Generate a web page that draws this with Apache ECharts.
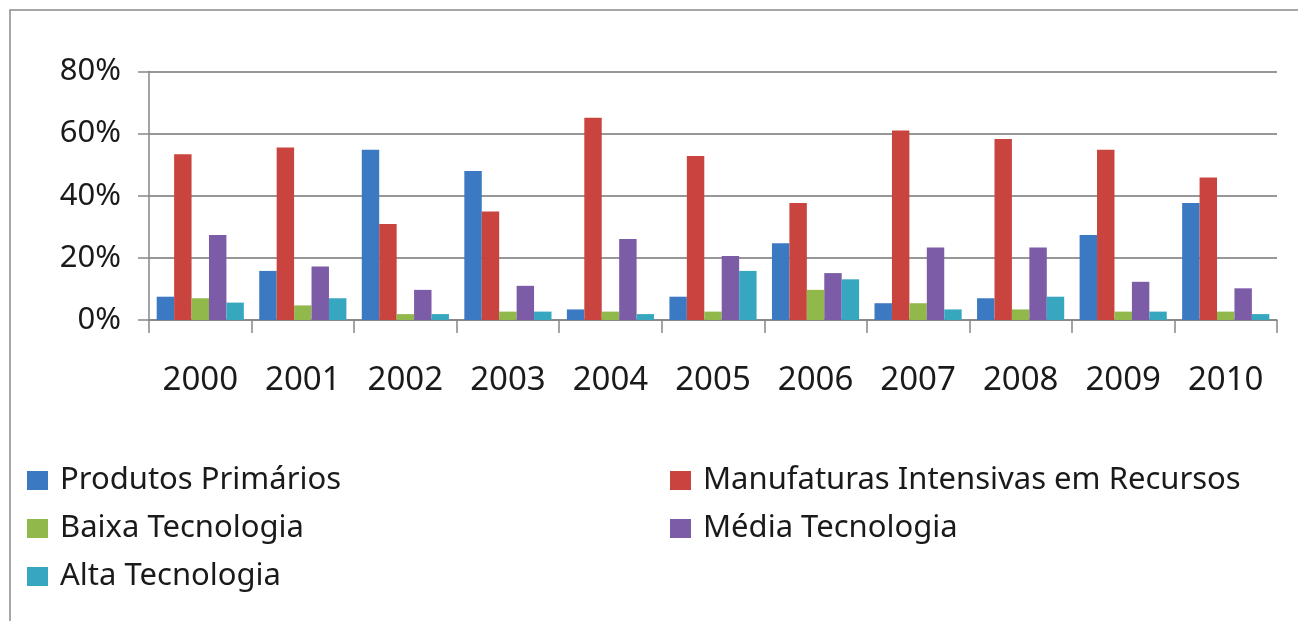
<!DOCTYPE html>
<html>
<head>
<meta charset="utf-8">
<script src="https://cdn.jsdelivr.net/npm/echarts@6/dist/echarts.min.js"></script>
<style>
  html, body { margin: 0; padding: 0; background: #fff; }
  #chart { width: 1298px; height: 621px; }
</style>
</head>
<body>
<div id="chart"></div>
<script>
// Export shares by technology intensity, 2000–2010 (%)
const years = ['2000', '2001', '2002', '2003', '2004', '2005', '2006', '2007', '2008', '2009', '2010'];
const yTicks = [0, 20, 40, 60, 80];

const produtosPrimarios = [7.5, 15.8, 54.8, 48.0, 3.4, 7.5, 24.7, 5.4, 7.0, 27.4, 37.7];
const manufaturasRecursos = [53.4, 55.5, 30.9, 34.9, 65.1, 52.8, 37.7, 61.0, 58.3, 54.8, 45.9];
const baixaTecnologia = [7.0, 4.7, 1.9, 2.7, 2.7, 2.7, 9.7, 5.4, 3.4, 2.7, 2.7];
const mediaTecnologia = [27.4, 17.2, 9.7, 11.0, 26.1, 20.6, 15.1, 23.3, 23.3, 12.3, 10.2];
const altaTecnologia = [5.6, 7.0, 1.9, 2.7, 1.9, 15.8, 13.1, 3.4, 7.5, 2.7, 1.9];

const seriesDefs = [
  { name: 'Produtos Primários', data: produtosPrimarios, color: '#3b79c3' },
  { name: 'Manufaturas Intensivas em Recursos', data: manufaturasRecursos, color: '#c9443f' },
  { name: 'Baixa Tecnologia', data: baixaTecnologia, color: '#90b84a' },
  { name: 'Média Tecnologia', data: mediaTecnologia, color: '#7d5ca7' },
  { name: 'Alta Tecnologia', data: altaTecnologia, color: '#37a7c0' }
];

const FONT = '"Noto Sans", "Open Sans", sans-serif';
const chart = echarts.init(document.getElementById('chart'), null, { renderer: 'canvas' });

const legendText = {
  fontFamily: FONT,
  fontSize: 31,
  color: '#1a1a1a',
  lineHeight: 30,
  padding: [0, 0, 0, 7]
};

chart.setOption({
  animation: false,
  backgroundColor: '#ffffff',
  color: seriesDefs.map(s => s.color),
  graphic: [{
    type: 'rect',
    shape: { x: 10, y: 10, width: 1300, height: 630 },
    style: { fill: 'none', stroke: '#8a8a8a', lineWidth: 1.5 },
    silent: true,
    z: -1
  }],
  grid: { left: 149, right: 21, top: 71.5, bottom: 301, containLabel: false },
  legend: [
    {
      orient: 'vertical',
      left: 22, top: 460,
      itemWidth: 21, itemHeight: 19, itemGap: 17,
      icon: 'rect',
      data: [seriesDefs[0].name, seriesDefs[2].name, seriesDefs[4].name],
      textStyle: legendText
    },
    {
      orient: 'vertical',
      left: 665, top: 460,
      itemWidth: 21, itemHeight: 19, itemGap: 17,
      icon: 'rect',
      data: [seriesDefs[1].name, seriesDefs[3].name],
      textStyle: legendText
    }
  ],
  xAxis: {
    type: 'category',
    data: years,
    axisLine: { show: true, lineStyle: { color: '#868686', width: 1.5 } },
    axisTick: { show: true, length: 13, alignWithLabel: false, lineStyle: { color: '#868686', width: 1.5 } },
    axisLabel: { margin: 44, fontFamily: FONT, fontSize: 33, color: '#1a1a1a' },
    splitLine: { show: false }
  },
  yAxis: {
    type: 'value',
    min: yTicks[0],
    max: yTicks[yTicks.length - 1],
    interval: 20,
    axisLine: { show: true, lineStyle: { color: '#868686', width: 1.5 } },
    axisTick: { show: true, length: 11, lineStyle: { color: '#868686', width: 1.5 } },
    axisLabel: {
      margin: 28,
      fontFamily: FONT,
      fontSize: 31,
      color: '#1a1a1a',
      formatter: '{value}%'
    },
    splitLine: { show: true, lineStyle: { color: '#757575', width: 1.5 } }
  },
  series: seriesDefs.map(s => ({
    name: s.name,
    type: 'bar',
    data: s.data,
    barGap: '0%',
    barCategoryGap: '15%',
    itemStyle: { color: s.color }
  }))
});
</script>
</body>
</html>
